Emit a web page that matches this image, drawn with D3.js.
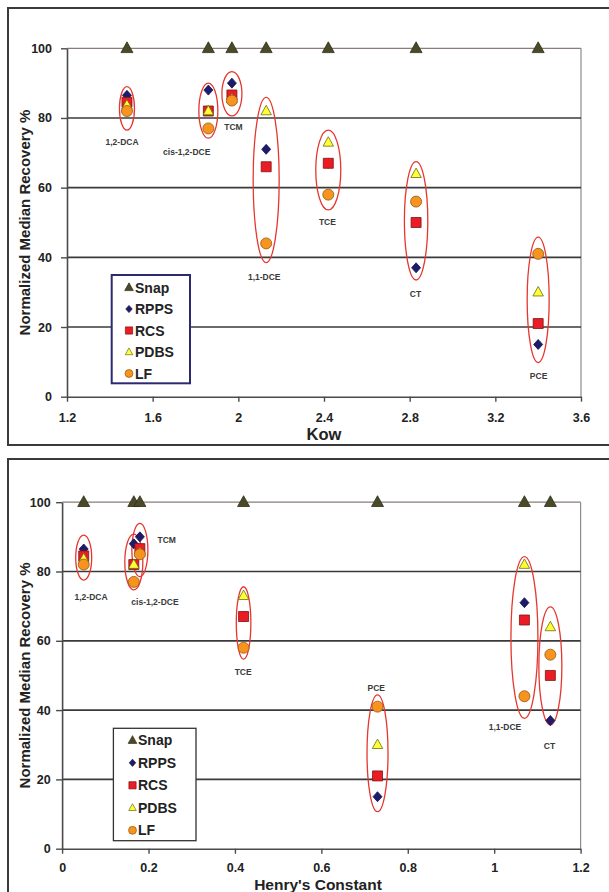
<!DOCTYPE html>
<html>
<head>
<meta charset="utf-8">
<script src="https://cdn.jsdelivr.net/npm/d3@7"></script>
<style>
  html, body { margin: 0; padding: 0; background: #fff; }
  svg { display: block; }
  text { font-family: "Liberation Sans", Arial, sans-serif; }
</style>
</head>
<body>
<svg id="chart" width="609" height="892"></svg>
<script>
// ---------------- DATA ----------------
const compounds = ["1,2-DCA", "cis-1,2-DCE", "TCM", "1,1-DCE", "TCE", "CT", "PCE"];
const kow   = [1.48, 1.86, 1.97, 2.13, 2.42, 2.83, 3.40];
const henry = [0.05, 0.166, 0.18, 1.07, 0.42, 1.13, 0.73];

const snap = [100, 100, 100, 100, 100, 100, 100];
const rpps = [86.5, 88, 90, 71, 67, 37, 15];
const rcs  = [84.5, 82, 86.6, 66, 67, 50, 21];
const pdbs = [83.7, 82, 85.5, 82, 73, 64, 30];
const lf   = [82, 77, 85, 44, 58, 56, 41];

const seriesNames = ["Snap", "RPPS", "RCS", "PDBS", "LF"];
const seriesValues = [snap, rpps, rcs, pdbs, lf];

const yTicks = [0, 20, 40, 60, 80, 100];
const kowTicks = [1.2, 1.6, 2, 2.4, 2.8, 3.2, 3.6];
const henryTicks = [0, 0.2, 0.4, 0.6, 0.8, 1, 1.2];
const kowTickLabels = ["1.2", "1.6", "2", "2.4", "2.8", "3.2", "3.6"];
const henryTickLabels = ["0", "0.2", "0.4", "0.6", "0.8", "1", "1.2"];

// hand-drawn ellipse extents (recovery % values), per compound
const ellipseKowLo   = [76.5, 74.2, 80.6, 38.5, 53.6, 33.5, 9.8];
const ellipseKowHi   = [89.0, 90.0, 93.3, 85.9, 76.5, 67.5, 45.8];
const ellipseHenryLo = [77.5, 74.7, 78.5, 37.6, 54.7, 35.7, 10.7];
const ellipseHenryHi = [90.5, 90.8, 93.9, 84.3, 75.6, 69.8, 44.4];

// compound label anchors (data units)
const labelKowX   = [1.457, 1.759, 1.977, 2.121, 2.416, 2.827, 3.402];
const labelKowY   = [73.2, 70.2, 77.5, 34.4, 50.2, 29.6, 5.9];
const labelHenryX = [0.067, 0.215, 0.242, 1.025, 0.419, 1.128, 0.727];
const labelHenryY = [72.7, 71.3, 89.1, 35.0, 51.1, 29.6, 46.3];

// ---------------- STYLE ----------------
const styles = {
  Snap: { shape: "triangle", fill: "#4a4a28", stroke: "#2e2e18", size: 12 },
  RPPS: { shape: "diamond",  fill: "#1d1b6b", stroke: "#14124e", size: 10 },
  RCS:  { shape: "square",   fill: "#ec1c24", stroke: "#7a1616", size: 10 },
  PDBS: { shape: "triangle", fill: "#ffff33", stroke: "#6b6b18", size: 10.5 },
  LF:   { shape: "circle",   fill: "#f7941d", stroke: "#94561a", size: 11 }
};

function shapePath(shape, s) {
  const h = s / 2;
  if (shape === "triangle") {
    const th = s * 0.9;
    return `M0,${-th * 0.6}L${h},${th * 0.4}L${-h},${th * 0.4}Z`;
  }
  if (shape === "diamond") return `M0,${-h}L${h * 0.9},0L0,${h}L${-h * 0.9},0Z`;
  if (shape === "square") return `M${-h},${-h}H${h}V${h}H${-h}Z`;
  const p = d3.path(); p.arc(0, 0, h, 0, 2 * Math.PI); return p.toString();
}

const svg = d3.select("#chart");
svg.append("rect").attr("width", 609).attr("height", 892).attr("fill", "#fff");

function drawChart(cfg) {
  const g = svg.append("g");
  // outer frame
  g.append("rect")
    .attr("x", cfg.frame[0]).attr("y", cfg.frame[1])
    .attr("width", cfg.frame[2]).attr("height", cfg.frame[3])
    .attr("fill", "#fff").attr("stroke", "#3a3a3a").attr("stroke-width", 2);

  const x = d3.scaleLinear().domain(cfg.xDomain).range([cfg.left, cfg.right]);
  const y = d3.scaleLinear().domain([0, 100]).range([cfg.bottom, cfg.top]);

  // plot right border
  g.append("line").attr("x1", cfg.right).attr("x2", cfg.right)
    .attr("y1", y(100)).attr("y2", y(0))
    .attr("stroke", "#8c8c8c").attr("stroke-width", 1.2);

  // gridlines
  g.selectAll(".grid").data(yTicks.filter(v => v > 0)).enter().append("line")
    .attr("x1", cfg.left).attr("x2", cfg.right)
    .attr("y1", d => y(d)).attr("y2", d => y(d))
    .attr("stroke", d => d === 100 ? "#8a7c7c" : "#3a3a3a")
    .attr("stroke-width", d => d === 100 ? 1.3 : 1.7);

  // axes
  const ax = g.append("g").attr("transform", `translate(0,${cfg.bottom})`)
    .call(d3.axisBottom(x).tickValues(cfg.xTicks)
      .tickFormat((d, i) => cfg.xTickLabels[i]).tickSize(5).tickSizeOuter(0).tickPadding(cfg.xPad));
  const ay = g.append("g").attr("transform", `translate(${cfg.left},0)`)
    .call(d3.axisLeft(y).tickValues(yTicks).tickSize(6).tickSizeOuter(0).tickPadding(cfg.yPad));
  [ax, ay].forEach(a => {
    a.select(".domain").attr("stroke", "#4a4a4a").attr("stroke-width", 1.6);
    a.selectAll(".tick line").attr("stroke", "#4a4a4a").attr("stroke-width", 1.4);
    a.selectAll(".tick text").attr("fill", "#222").attr("font-size", "12.5px")
      .attr("font-weight", "bold").attr("font-family", "Liberation Sans, Arial, sans-serif");
  });

  // axis titles
  g.append("text").attr("x", cfg.xTitlePos[0]).attr("y", cfg.xTitlePos[1])
    .attr("text-anchor", "middle").attr("font-size", cfg.xTitleSize).attr("font-weight", "bold")
    .attr("fill", "#222").text(cfg.xTitle);
  g.append("text")
    .attr("transform", `translate(30,${(cfg.top + cfg.bottom) / 2}) rotate(-90)`)
    .attr("text-anchor", "middle").attr("font-size", "15px").attr("font-weight", "bold")
    .attr("fill", "#222").text("Normalized Median Recovery %");

  // ellipses
  compounds.forEach((c, i) => {
    const yHi = y(cfg.ellHi[i]), yLo = y(cfg.ellLo[i]);
    g.append("ellipse")
      .attr("cx", x(cfg.xVals[i])).attr("cy", (yHi + yLo) / 2)
      .attr("rx", cfg.ellRx[i]).attr("ry", (yLo - yHi) / 2)
      .attr("fill", "none").attr("stroke", "#e5372f").attr("stroke-width", 1.3);
  });

  // points
  seriesNames.forEach((name, si) => {
    const st = styles[name];
    g.selectAll(".pt-" + name).data(seriesValues[si]).enter().append("path")
      .attr("d", shapePath(st.shape, st.size))
      .attr("transform", (d, i) => `translate(${x(cfg.xVals[i])},${y(d)})`)
      .attr("fill", st.fill).attr("stroke", st.stroke).attr("stroke-width", 0.8);
  });

  // compound labels
  compounds.forEach((c, i) => {
    g.append("text").attr("x", x(cfg.labX[i])).attr("y", y(cfg.labY[i]))
      .attr("dy", "0.35em").attr("text-anchor", "middle")
      .attr("font-family", "'Open Sans', 'Liberation Sans', sans-serif")
      .attr("font-size", "8.5px").attr("font-weight", "600").attr("fill", "#3a3a3a").text(c);
  });

  // legend
  const L = cfg.legend;
  g.append("rect").attr("x", L.x).attr("y", L.y).attr("width", L.w).attr("height", L.h)
    .attr("fill", "#fff").attr("stroke", L.stroke).attr("stroke-width", L.sw);
  seriesNames.forEach((name, si) => {
    const st = styles[name];
    const cy = L.y + L.first + si * L.step;
    g.append("path").attr("d", shapePath(st.shape, st.size * 0.72))
      .attr("transform", `translate(${L.symX},${cy})`)
      .attr("fill", st.fill).attr("stroke", st.stroke).attr("stroke-width", 0.7);
    g.append("text").attr("x", L.textX).attr("y", cy).attr("dy", "0.36em")
      .attr("font-size", "14px").attr("font-weight", "bold").attr("fill", "#222").text(name);
  });
}

drawChart({
  frame: [8, 8, 640, 437],
  xDomain: [1.2, 3.6], left: 67, right: 581, top: 48.3, bottom: 396.7,
  xTicks: kowTicks, xTickLabels: kowTickLabels, yPad: 9, xPad: 11,
  xTitle: "Kow", xTitlePos: [324, 440], xTitleSize: "16.5px",
  xVals: kow, ellLo: ellipseKowLo, ellHi: ellipseKowHi,
  ellRx: [7.5, 9.5, 10, 13, 12.5, 11.7, 11],
  labX: labelKowX, labY: labelKowY,
  legend: { x: 111.7, y: 275, w: 78.3, h: 108.3, stroke: "#2b2a6e", sw: 2,
            first: 12.5, step: 21.5, symX: 129, textX: 135 }
});

drawChart({
  frame: [8, 459, 640, 460],
  xDomain: [0, 1.2], left: 62.1, right: 580.6, top: 502.2, bottom: 848.7,
  xTicks: henryTicks, xTickLabels: henryTickLabels, yPad: 5.5, xPad: 9.5,
  xTitle: "Henry's Constant", xTitlePos: [318, 890], xTitleSize: "15.5px",
  xVals: henry, ellLo: ellipseHenryLo, ellHi: ellipseHenryHi,
  ellRx: [8, 9, 8, 13.5, 7.3, 11.5, 10.5],
  labX: labelHenryX, labY: labelHenryY,
  legend: { x: 113.4, y: 728.3, w: 82.6, h: 112.4, stroke: "#333", sw: 1.3,
            first: 12, step: 22.5, symX: 132.5, textX: 138 }
});
</script>
</body>
</html>
